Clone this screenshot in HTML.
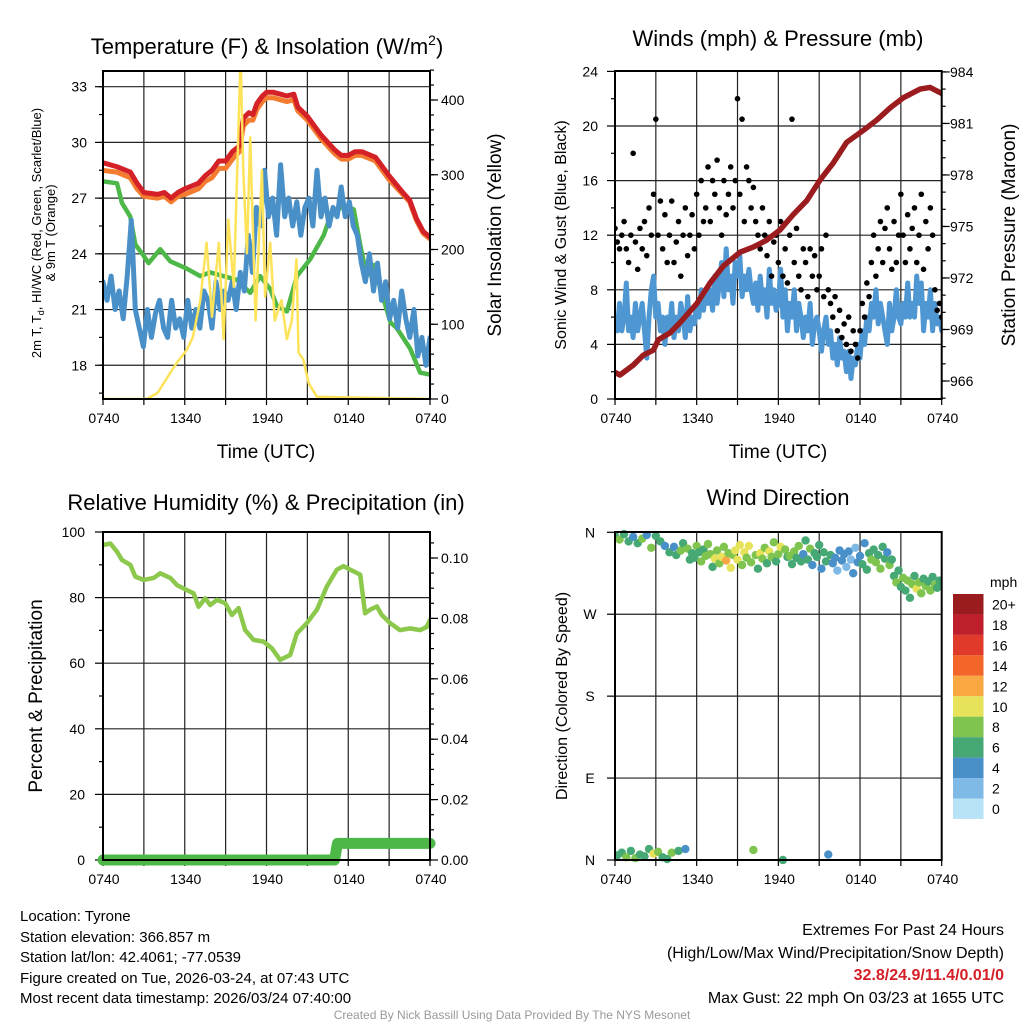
<!DOCTYPE html>
<html><head><meta charset="utf-8"><title>Tyrone Mesonet Meteogram</title>
<style>
html,body{margin:0;padding:0;background:#fff;}
svg{display:block;font-family:"Liberation Sans",Arial,sans-serif;}
</style></head>
<body>
<svg id="chart" width="1024" height="1024" viewBox="0 0 1024 1024" xmlns="http://www.w3.org/2000/svg">
<defs>
<clipPath id="c1"><rect x="103" y="71" width="327" height="328"/></clipPath>
<clipPath id="c2"><rect x="615" y="71" width="326.7" height="328"/></clipPath>
<clipPath id="c3"><rect x="103" y="532" width="327" height="328"/></clipPath>
<clipPath id="c4"><rect x="615" y="528" width="326.7" height="336"/></clipPath>
</defs>
<g id="layer"></g>
<text x="267" y="54" font-size="22" text-anchor="middle">Temperature (F) &amp; Insolation (W/m<tspan dy="-9" font-size="14">2</tspan><tspan dy="9">)</tspan></text>
<text x="778" y="46" font-size="22" text-anchor="middle">Winds (mph) &amp; Pressure (mb)</text>
<text x="266" y="510" font-size="22" text-anchor="middle">Relative Humidity (%) &amp; Precipitation (in)</text>
<text x="778" y="505" font-size="22" text-anchor="middle">Wind Direction</text>

<text transform="translate(41,233) rotate(-90)" font-size="13" text-anchor="middle">2m T, T<tspan dy="3" font-size="9">d</tspan><tspan dy="-3">, HI/WC (Red, Green, Scarlet/Blue)</tspan></text>
<text transform="translate(55,233) rotate(-90)" font-size="13" text-anchor="middle">&amp; 9m T (Orange)</text>
<text transform="translate(501,235) rotate(-90)" font-size="19" text-anchor="middle">Solar Insolation (Yellow)</text>
<text transform="translate(566,235) rotate(-90)" font-size="16" text-anchor="middle">Sonic Wind &amp; Gust (Blue, Black)</text>
<text transform="translate(1015,235) rotate(-90)" font-size="19" text-anchor="middle">Station Pressure (Maroon)</text>
<text transform="translate(42,696) rotate(-90)" font-size="19" text-anchor="middle">Percent &amp; Precipitation</text>
<text transform="translate(567,696) rotate(-90)" font-size="16" text-anchor="middle">Direction (Colored By Speed)</text>
<text x="266" y="458" font-size="19" text-anchor="middle">Time (UTC)</text>
<text x="778" y="458" font-size="19" text-anchor="middle">Time (UTC)</text>

<g font-size="15">
<text x="20" y="921">Location: Tyrone</text>
<text x="20" y="942">Station elevation: 366.857 m</text>
<text x="20" y="962">Station lat/lon: 42.4061; -77.0539</text>
<text x="20" y="983">Figure created on Tue, 2026-03-24, at 07:43 UTC</text>
<text x="20" y="1003">Most recent data timestamp: 2026/03/24 07:40:00</text>
</g>
<g font-size="16" text-anchor="end">
<text x="1004" y="935">Extremes For Past 24 Hours</text>
<text x="1004" y="958">(High/Low/Max Wind/Precipitation/Snow Depth)</text>
<text x="1004" y="980" fill="#d42027" font-weight="bold">32.8/24.9/11.4/0.01/0</text>
<text x="1004" y="1003">Max Gust: 22 mph On 03/23 at 1655 UTC</text>
</g>
<text x="512" y="1019" font-size="12" fill="#999" text-anchor="middle">Created By Nick Bassill Using Data Provided By The NYS Mesonet</text>
</svg>
<script>
// ---------- data ----------
const xTickLabels = ["0740","1340","1940","0140","0740"];
const redT = [0,1,2,2.5,3,4,4.5,5,5.5,6,7,7.5,8,8.5,9,9.5,10,10.3,10.7,11,11.3,11.7,12,12.5,13,13.5,14,14.3,15,16,17,17.5,18,18.5,19,20,21,22,22.5,23,23.5,24];
const redV = [28.9,28.7,28.4,27.8,27.3,27.2,27.3,27.0,27.3,27.5,27.8,28.2,28.5,29.0,29.0,29.5,29.8,31.3,31.6,31.5,32.1,32.5,32.7,32.7,32.6,32.5,32.6,31.9,31.4,30.4,29.6,29.3,29.3,29.5,29.5,29.2,28.2,27.3,26.9,25.9,25.2,24.9];
const orangeV = [28.5,28.4,28.1,27.5,27.1,27.0,27.1,26.8,27.1,27.2,27.5,27.9,28.1,28.6,28.6,29.1,29.5,30.9,31.2,31.2,31.8,32.2,32.4,32.4,32.3,32.2,32.3,31.7,31.2,30.2,29.4,29.1,29.1,29.3,29.3,29.0,28.0,27.2,26.8,25.8,25.1,24.8];
const greenT = [0,1.03,1.39,2.0,2.37,2.98,3.35,4.2,4.94,6.16,7.14,7.87,9.83,10.8,11.54,12.27,12.76,13.5,14.23,15.2,16.2,16.67,17.65,18.4,18.9,19.36,19.85,21.1,21.56,22.54,23.28,24];
const greenV = [27.9,27.8,26.75,26.0,24.5,23.9,23.5,24.25,23.6,23.2,22.8,23.0,22.6,21.9,22.8,22.1,21.2,20.9,22.8,23.7,25.0,26.0,26.6,26.4,24.4,22.8,23.4,20.3,20.0,18.9,17.6,17.5];
const blueV = [22.5,21.5,22.8,21.0,22.0,20.5,22.8,25.8,21.0,20.0,19.0,21.0,19.5,20.8,21.5,20.0,19.5,21.5,20.0,20.5,19.5,21.5,20.0,21.0,20.0,22.0,21.5,20.0,22.5,21.0,22.0,21.5,22.5,21.0,23.0,22.0,25.0,23.0,26.5,25.5,28.5,26.0,27.0,25.0,28.8,26.0,27.0,25.5,26.8,25.0,26.5,27.0,25.5,28.5,26.0,27.0,25.5,26.5,26.0,27.6,26.0,26.8,25.5,25.0,23.5,22.5,24.0,22.0,23.5,21.5,22.5,20.5,21.5,20.0,22.0,20.5,19.5,21.0,18.5,19.5,18.0,19.5];
const solarT = [0,3.2,4.0,4.94,5.4,6.16,6.6,7.14,7.6,8.0,8.5,8.85,9.2,9.6,10.1,10.3,10.56,10.8,11.2,11.66,11.9,12.27,12.6,13.1,13.5,13.86,14.2,14.35,14.7,15.1,15.7,24];
const solarV = [0,0,8,35,48,66,83,132,209,110,209,80,240,150,460,306,195,350,105,306,137,209,105,132,80,105,187,62,53,21,3,0];
const windV = [6,5,7,5,6,8.5, 5,6,4.5,7,5,6, 7,5,3,6,8,9, 6,7,5,6,4,6, 5,7,4.5,6,5,7, 6,4.5,7.5,5,6,5.5, 7,6,8,6.5,8,7, 8,6.5,9,7,8.5,10, 7.5,11,8,9,7,10, 9,10.5,7.5,9,8,9.5, 8,7,8.5,6.5,9,7, 8,6,9.5,7,8,6.5, 7,9.5,6,8,5,7, 6,8,5,7,6,4.5, 6,5,7,4,5.5,6, 5,3.5,5,6,4,5, 3,4,2.5,4.5,3,3.5, 2,3.5,1.5,3,2.5,4, 3,5,4,6,5,7, 6,8,5.5,7,6,5, 4,7,5,6,8,6, 5.5,7,6,8.5,6,7, 6,9,7,8.5,5,7, 6,8,5,7,5.5,6,5];
const gustV = [12.5,11.5,11,12,13,11, 10,12,18,11.5,9.5,12.5, 11,13,10.5,14,12,15, 20.5,12,14.5,11,13.5,10, 12,14.5,10,11.5,13,9, 12,14,10.5,12,13.5,11, 15,12,16,13,14,17, 13,16,15,17.5,14,12, 16,13.5,15,17,14,16, 22,15,20.5,13,17,16, 14,15.5,13,12,11,14, 12,10.5,13,9,11.5,12, 10,13,9,11,8.5,12, 20.5,10,12.5,9,8,11, 10,7.5,11,9,10.5,8, 9,11,7.5,12,8,7, 6,7.5,5,6.5,4.5,5.5, 4,6,3.5,5,4,3, 5,7,6,8.5,7.5,10, 12,9,11,13,10,12.5, 14,11,9.5,13,10,12, 15,12,10,13.5,11,12.5, 14,10,12,15,9.5,13, 11,14,12,8,6.5,7,6];
const pressT = [0,0.37,1.35,2.08,2.82,3.18,4.04,4.78,6.0,6.98,7.96,9.18,10.16,11.14,12.12,13.1,14.08,15.06,16.04,17.02,18.25,19.23,20.2,21.19,22.41,23.14,24];
const pressV = [966.5,966.35,966.93,967.5,967.8,968.4,968.8,969.4,970.5,971.7,972.7,973.5,973.8,974.2,974.8,975.7,976.5,977.7,978.7,979.9,980.6,981.2,981.9,982.5,983.0,983.1,982.75];
const rhT = [0,0.54,1.03,1.39,2.0,2.37,2.98,3.72,4.2,4.94,5.43,6.16,6.65,7.02,7.5,7.87,8.36,8.97,9.46,9.95,10.44,11.05,11.78,12.4,13.0,13.74,14.23,14.96,15.7,16.43,17.16,17.65,18.14,18.88,19.24,19.6,20.1,20.46,21.08,21.8,22.54,23.28,23.77,24];
const rhV = [96.0,96.5,94,91.5,90,86.4,85.4,86,87.4,86,83.8,82.3,81.3,77.2,79.8,77.7,79.3,78.3,74.7,76.8,70.1,67.1,66.6,64.5,61.0,62.5,69.1,72.2,76.3,83.4,88.5,89.6,88.5,87.0,75.2,76.3,77.3,74.7,72.2,70.1,70.6,70.1,71.1,73.2];
const precipT = [0,17.0,17.2,24];
const precipV = [0,0,0.0055,0.0055];
const dirV = [356,5,352,8,358,3, 350,10,355,2,348,6, 353,4,357,12,343,7, 356,9,350,3,345,1, 338,8,344,335,10,340, 348,12,342,330,337,332, 345,338,328,341,334,347, 336,322,331,340,326,333, 344,329,337,321,335,340, 330,346,324,338,332,345, 327,11,335,320,337,331, 343,326,339,333,349,328, 336,344,0,341,333,334, 325,339,332,345,328,336, 351,330,342,324,337,333, 346,320,338,328,6,335, 326,332,318,340,329,336, 322,339,330,315,343,327, 334,325,348,319,337,330, 341,327,335,320,344,331, 338,324,330,312,305,318, 300,310,296,307,288,303, 312,298,305,293,309,301, 306,296,311,302,299,307,304];
const speedLabels = ["20+","18","16","14","12","10","8","6","4","2","0"];
const speedColors = ["#9b1c1f","#bf1e2d","#e03a2b","#f2662a","#f9a743","#e6e25a","#7ec44e","#46a874","#4a90c8","#7fbae6","#b8e2f6"];

// ---------- helpers ----------
const NS="http://www.w3.org/2000/svg";
const layer=document.getElementById('layer');
function mk(tag,attrs,parent){const e=document.createElementNS(NS,tag);for(const k in attrs)e.setAttribute(k,attrs[k]);(parent||layer).appendChild(e);return e;}
function xs(P){return h=>P.x0+h/24*(P.x1-P.x0);}
const P1={x0:103,x1:430,y0:71,y1:399}, P2={x0:615,x1:941.7,y0:71,y1:399}, P3={x0:103,x1:430,y0:532,y1:860}, P4={x0:615,x1:941.7,y0:532,y1:860};
const yT=v=>86.7+(33-v)*18.57, yS=v=>399-v*0.7475, yW=v=>399-v*13.65, yP=v=>381-(v-966)*17.17, yR=v=>860-v*3.28, yPr=v=>860-v*3020, yD=v=>860-v*0.9103;

function frame(P,name){
  const g=mk('g',{});
  
  
  const x=xs(P);
  for(let h=3;h<24;h+=3) mk('line',{x1:x(h),x2:x(h),y1:P.y0,y2:P.y1,stroke:'#222','stroke-width':1.2},g);
  for(let h=0;h<=24;h+=3) mk('line',{x1:x(h),x2:x(h),y1:P.y1,y2:P.y1+6,stroke:'#000','stroke-width':1.2},g);
  for(let i=0;i<5;i++){
    const t=mk('text',{x:x(i*6)+1,y:P.y1+24,'font-size':14,'text-anchor':'middle'});
    
    
    t.textContent=xTickLabels[i];
  }
  return g;
}
function hline(g,P,y){mk('line',{x1:P.x0,x2:P.x1,y1:y,y2:y,stroke:'#222','stroke-width':1.2},g);}
function ytick(g,x,y,len){mk('line',{x1:x,x2:x+len,y1:y,y2:y,stroke:'#000','stroke-width':1.2},g);}
function ylabel(x,y,txt,anchor){const t=mk('text',{x:x,y:y+5,'font-size':14,'text-anchor':anchor});
  
  
  t.textContent=txt;}
function border(P){const r=mk('rect',{x:P.x0,y:P.y0,width:P.x1-P.x0,height:P.y1-P.y0,fill:'none',stroke:'#000','stroke-width':2});
  
  }
function poly(ts,vs,xf,yf,color,w,clip,name){
  const pts=ts.map((t,i)=>xf(t).toFixed(1)+','+yf(vs[i]).toFixed(1)).join(' ');
  const p=mk('polyline',{points:pts,fill:'none',stroke:color,'stroke-width':w,'stroke-linejoin':'round','stroke-linecap':'round'});
  if(clip) p.setAttribute('clip-path','url(#'+clip+')');
  
  
  return p;
}
const idxT=n=>Array.from({length:n},(_,i)=>i*24/(n-1));

// ---------- panel 1 ----------
{
  const g=frame(P1,'temp');
  for(let v=18;v<=33;v+=3){hline(g,P1,yT(v));ytick(g,P1.x0,yT(v),-8);ylabel(87,yT(v),String(v),'end');}
  for(let v=16.5;v<=33;v+=1.5) ytick(g,P1.x0,yT(v),-4);
  for(let v=0;v<=400;v+=100){ytick(g,P1.x1,yS(v),8);ylabel(441,yS(v),String(v),'start');}
  for(let v=20;v<=440;v+=20) ytick(g,P1.x1,yS(v),4);
  const x=xs(P1);
  poly(redT,orangeV,x,yT,'#f47c30',5,'c1','nine-meter-temp-line');
  poly(redT,redV,x,yT,'#d42027',5,'c1','two-meter-temp-line');
  poly(greenT,greenV,x,yT,'#4db848',4.5,'c1','dewpoint-line');
  poly(idxT(blueV.length),blueV,x,yT,'#4a90c8',5,'c1','wind-chill-line');
  poly(solarT,solarV,x,yS,'#fde35a',2.5,'c1','solar-insolation-line');
  border(P1);
}
// ---------- panel 2 ----------
{
  const g=frame(P2,'wind');
  for(let v=0;v<=24;v+=4){if(v>0&&v<24)hline(g,P2,yW(v));ytick(g,P2.x0,yW(v),-8);ylabel(598,yW(v),String(v),'end');}
  for(let v=2;v<24;v+=4) ytick(g,P2.x0,yW(v),-4);
  for(let v=966;v<=984;v+=3){ytick(g,P2.x1,yP(v),8);ylabel(950,yP(v),String(v),'start');}
  for(let v=965;v<=984.5;v+=1) ytick(g,P2.x1,yP(v),4);
  const x=xs(P2);
  poly(idxT(windV.length),windV,x,yW,'#4f97d2',5,'c2','sonic-wind-line');
  const gt=idxT(gustV.length);
  gustV.forEach((v,i)=>{const c=mk('circle',{cx:x(gt[i]),cy:yW(v),r:2.8,fill:'#000','clip-path':'url(#c2)'});
    
    });
  poly(pressT,pressV,x,yP,'#9b1c1f',5.5,'c2','pressure-line');
  border(P2);
}
// ---------- panel 3 ----------
{
  const g=frame(P3,'humidity');
  for(let v=0;v<=100;v+=20){if(v>0&&v<100)hline(g,P3,yR(v));ytick(g,P3.x0,yR(v),-8);ylabel(85,yR(v),String(v),'end');}
  for(let v=10;v<100;v+=20) ytick(g,P3.x0,yR(v),-4);
  for(let v=0;v<=0.1001;v+=0.02){ytick(g,P3.x1,yPr(v),8);ylabel(441,yPr(v),v.toFixed(2),'start');}
  for(let v=0.005;v<=0.108;v+=0.005) ytick(g,P3.x1,yPr(v),4);
  const x=xs(P3);
  poly(rhT,rhV,x,yR,'#8cc84b',4.5,'c3','relative-humidity-line');
  poly(precipT,precipV,x,yPr,'#4db848',11,null,'precipitation-line');
  border(P3);
}
// ---------- panel 4 ----------
{
  const g=frame(P4,'direction');
  const dl=['N','E','S','W','N'];
  for(let i=0;i<=4;i++){const v=i*90;if(i>0&&i<4)hline(g,P4,yD(v));ytick(g,P4.x0,yD(v),-8);ylabel(590,yD(v),dl[i],'middle');}
  const x=xs(P4);
  const dt=idxT(dirV.length);
  dirV.forEach((d,i)=>{
    const sp=windV[i];
    const bin=Math.min(10,Math.round(sp/2));
    const col=speedColors[10-bin];
    const c=mk('circle',{cx:x(dt[i]),cy:yD(d),r:4.2,fill:col,'clip-path':'url(#c4)'});
    
    
  });
  border(P4);
  const cb=mk('g',{});
  
  
  const t=mk('text',{x:990,y:587,'font-size':14},cb);t.textContent='mph';
  speedLabels.forEach((l,i)=>{
    const y=594+i*20.45;
    const r=mk('rect',{x:953,y:y,width:30.5,height:20.45,fill:speedColors[i]},cb);
    
    
    const tt=mk('text',{x:992,y:y+15.5,'font-size':14},cb);
    
    
    tt.textContent=l;
  });
}
</script>
</body></html>
